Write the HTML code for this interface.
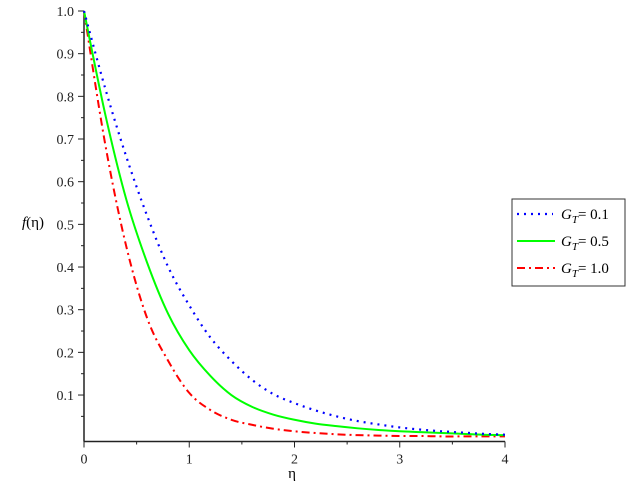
<!DOCTYPE html>
<html><head><meta charset="utf-8"><style>
body{margin:0;background:#fff;}
svg{display:block;font-family:"Liberation Serif",serif;}
</style></head><body>
<svg id="chart" width="631" height="489">
<g id="axes"></g>
<g id="series"></g>
<text x="22" y="227" font-size="15" font-style="italic">f<tspan font-style="normal">(η)</tspan></text>
<text x="292" y="478" font-size="15" text-anchor="middle">η</text>
<g>
<rect x="512" y="199" width="113" height="87" fill="#fff" stroke="#333" stroke-width="1"/>
<line x1="517" y1="214" x2="553" y2="214" stroke="#0000ff" stroke-width="2.2" stroke-dasharray="2,5"/>
<text x="561" y="219" font-size="15"><tspan font-style="italic">G<tspan font-size="11" dy="4">T</tspan></tspan><tspan dy="-4">= 0.1</tspan></text>
<line x1="517" y1="241" x2="555" y2="241" stroke="#00ff00" stroke-width="2"/>
<text x="561" y="246" font-size="15"><tspan font-style="italic">G<tspan font-size="11" dy="4">T</tspan></tspan><tspan dy="-4">= 0.5</tspan></text>
<line x1="517" y1="268" x2="555" y2="268" stroke="#ff0000" stroke-width="2" stroke-dasharray="8,4,2,4"/>
<text x="561" y="273" font-size="15"><tspan font-style="italic">G<tspan font-size="11" dy="4">T</tspan></tspan><tspan dy="-4">= 1.0</tspan></text>
</g>
</svg>
<script>
const etaValues=[0,0.2,0.4,0.6,0.8,1.0,1.2,1.4,1.6,1.8,2.0,2.2,2.4,2.6,2.8,3.0,3.2,3.4,3.6,3.8,4.0];
const seriesG01=[1,0.82,0.66,0.52,0.40,0.31,0.235,0.18,0.135,0.102,0.081,0.064,0.05,0.039,0.031,0.024,0.019,0.015,0.012,0.009,0.007];
const seriesG05=[1,0.76,0.56,0.41,0.29,0.205,0.145,0.10,0.072,0.054,0.042,0.033,0.027,0.022,0.018,0.015,0.013,0.011,0.009,0.007,0.006];
const seriesG10=[1,0.69,0.45,0.28,0.18,0.105,0.065,0.042,0.03,0.021,0.015,0.011,0.008,0.006,0.005,0.004,0.004,0.003,0.003,0.003,0.003];
const xTicks=[0,1,2,3,4];
const yTicks=[0.1,0.2,0.3,0.4,0.5,0.6,0.7,0.8,0.9,1.0];
const NS="http://www.w3.org/2000/svg";
const xs=v=>84+v*(505-84)/4;
const ys=v=>437.7-v*426.7;
const axes=document.getElementById('axes'),ser=document.getElementById('series');
function mk(t,a,p){const e=document.createElementNS(NS,t);for(const k in a)e.setAttribute(k,a[k]);p.appendChild(e);return e;}
const axisY=441.5;
let e=mk('line',{x1:84,y1:axisY,x2:505,y2:axisY,stroke:'#222','stroke-width':1.5},axes);


e=mk('line',{x1:84,y1:axisY,x2:84,y2:ys(1.0),stroke:'#222','stroke-width':1.5},axes);


xTicks.forEach(v=>{
 mk('line',{x1:xs(v),y1:axisY,x2:xs(v),y2:axisY+6,stroke:'#222'},axes);
 if(v<4)mk('line',{x1:xs(v+0.5),y1:axisY,x2:xs(v+0.5),y2:axisY+3,stroke:'#222'},axes);
 const t=mk('text',{x:xs(v),y:axisY+22,'font-size':14,'text-anchor':'middle',fill:'#222'},axes);
 t.textContent=v;
 
 
});
yTicks.forEach(v=>{
 mk('line',{x1:78,y1:ys(v),x2:84,y2:ys(v),stroke:'#222'},axes);
 mk('line',{x1:81,y1:ys(v-0.05),x2:84,y2:ys(v-0.05),stroke:'#222'},axes);
 const t=mk('text',{x:74,y:ys(v)+5,'font-size':14,'text-anchor':'end',fill:'#222'},axes);
 t.textContent=v.toFixed(1);
 
 
});
function path(vals){
 const p=etaValues.map((x,i)=>[xs(x),ys(vals[i])]);
 let d='M'+p[0][0]+','+p[0][1];
 for(let i=0;i<p.length-1;i++){
  const p0=p[Math.max(0,i-1)],p1=p[i],p2=p[i+1],p3=p[Math.min(p.length-1,i+2)];
  d+=' C'+(p1[0]+(p2[0]-p0[0])/6)+','+(p1[1]+(p2[1]-p0[1])/6)+' '+(p2[0]-(p3[0]-p1[0])/6)+','+(p2[1]-(p3[1]-p1[1])/6)+' '+p2[0]+','+p2[1];
 }
 return d;
}
e=mk('path',{d:path(seriesG10),fill:'none',stroke:'#ff0000','stroke-width':2,'stroke-dasharray':'8,4,2,4'},ser);


e=mk('path',{d:path(seriesG05),fill:'none',stroke:'#00ff00','stroke-width':2},ser);


e=mk('path',{d:path(seriesG01),fill:'none',stroke:'#0000ff','stroke-width':2.2,'stroke-dasharray':'2,5'},ser);


</script>
</body></html>
